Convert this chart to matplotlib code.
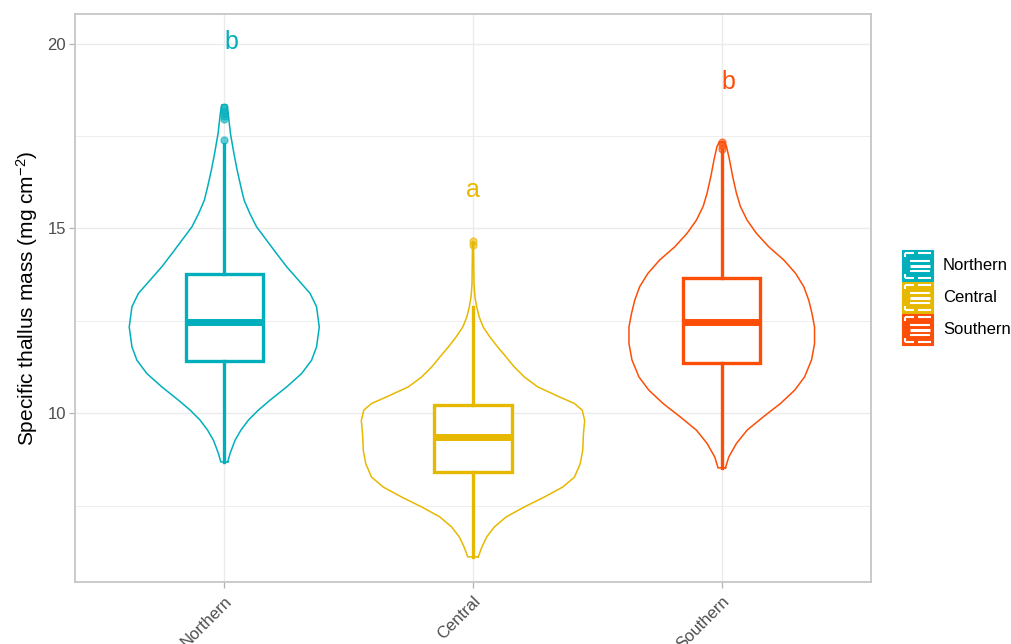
import numpy as np
import matplotlib
matplotlib.use("Agg")
import matplotlib.pyplot as plt
from matplotlib.patches import Rectangle

plt.rcParams['font.family'] = ['Liberation Sans', 'DejaVu Sans']
plt.rcParams['mathtext.fontset'] = 'custom'
plt.rcParams['mathtext.rm'] = 'Liberation Sans'
plt.rcParams['mathtext.it'] = 'Liberation Sans:italic'

regions = ['Northern', 'Central', 'Southern']
colors = ['#00AFBB', '#E7B800', '#FC4E07']

# violin outlines: value -> half width (in category units)
north_y = [8.68, 8.90, 9.26, 9.54, 9.81, 10.08, 10.35, 10.71, 11.07, 11.43, 11.79, 12.33,
           12.88, 13.24, 13.60, 13.96, 14.32, 14.68, 15.04, 15.40, 15.76, 16.12, 16.57,
           17.02, 17.56, 18.10, 18.34]
north_w = [0.014, 0.023, 0.043, 0.067, 0.097, 0.137, 0.184, 0.251, 0.311, 0.351, 0.371,
           0.382, 0.371, 0.345, 0.298, 0.251, 0.210, 0.170, 0.130, 0.103, 0.080, 0.067,
           0.052, 0.039, 0.025, 0.016, 0.010]
central_y = [6.11, 6.38, 6.65, 6.92, 7.19, 7.46, 7.73, 8.00, 8.27, 8.63, 8.99, 9.44, 9.80,
             10.08, 10.26, 10.44, 10.71, 10.98, 11.25, 11.52, 11.79, 12.06, 12.33, 12.60,
             12.87, 13.14, 13.50, 14.04, 14.64]
central_w = [0.021, 0.036, 0.055, 0.086, 0.133, 0.206, 0.287, 0.361, 0.408, 0.431, 0.441,
             0.444, 0.449, 0.439, 0.408, 0.347, 0.260, 0.206, 0.166, 0.133, 0.099, 0.068,
             0.041, 0.025, 0.015, 0.008, 0.004, 0.003, 0.002]
south_y = [8.52, 8.81, 9.18, 9.54, 9.91, 10.26, 10.62, 10.98, 11.44, 11.88, 12.33, 12.69,
           13.05, 13.42, 13.78, 14.14, 14.50, 14.86, 15.22, 15.59, 15.95, 16.40, 16.86,
           17.22, 17.34]
south_w = [0.015, 0.028, 0.059, 0.102, 0.169, 0.236, 0.293, 0.333, 0.361, 0.373, 0.373,
           0.363, 0.350, 0.330, 0.297, 0.250, 0.189, 0.140, 0.102, 0.075, 0.059, 0.044,
           0.031, 0.019, 0.010]

# box plot summaries
q1 = [11.41, 8.40, 11.35]
med = [12.46, 9.35, 12.46]
q3 = [13.76, 10.22, 13.65]
whis_lo = [8.68, 6.11, 8.52]
whis_hi = [17.28, 12.87, 17.12]
outliers = [[17.40, 17.95, 18.05, 18.12, 18.21, 18.28],
            [14.55, 14.66],
            [17.16, 17.26, 17.33]]

letters = ['b', 'a', 'b']
letter_y = [20.05, 16.04, 18.97]

violins = [(north_y, north_w), (central_y, central_w), (south_y, south_w)]

fig = plt.figure(figsize=(10.12, 6.44), dpi=100)
ax = fig.add_axes([75 / 1012, 62 / 644, 796 / 1012, 568 / 644])

for i, (vy, vw) in enumerate(violins):
    pos = i + 1
    vy = np.array(vy)
    vw = np.array(vw)
    xs = np.concatenate([pos + vw, (pos - vw)[::-1], [pos + vw[0]]])
    ys = np.concatenate([vy, vy[::-1], [vy[0]]])
    ax.plot(xs, ys, color=colors[i], lw=1.1, zorder=2, solid_joinstyle='round')

stats = []
for i in range(3):
    stats.append(dict(med=med[i], q1=q1[i], q3=q3[i], whislo=whis_lo[i],
                      whishi=whis_hi[i], fliers=outliers[i]))

for i in range(3):
    c = colors[i]
    ax.bxp([stats[i]], positions=[i + 1], widths=0.31, patch_artist=True,
           showcaps=False, manage_ticks=False, zorder=3,
           boxprops=dict(facecolor='white', edgecolor=c, lw=2.4),
           medianprops=dict(color=c, lw=5, solid_capstyle='butt'),
           whiskerprops=dict(color=c, lw=2.4),
           flierprops=dict(marker='o', markerfacecolor=c, markeredgecolor=c,
                           markersize=5, alpha=0.6))

for i in range(3):
    nudge = 0.028 if letters[i] == 'b' else 0.0
    ax.text(i + 1 + nudge, letter_y[i], letters[i], color=colors[i], fontsize=18,
            ha='center', va='center', zorder=4)

ax.set_xlim(0.4, 3.6)
ax.set_ylim(5.43, 20.80)
ax.set_xticks([1, 2, 3])
ax.set_xticklabels(regions, rotation=45, ha='right', va='top', rotation_mode='anchor')
ax.set_yticks([10, 15, 20])
ax.set_yticks([7.5, 12.5, 17.5], minor=True)
ax.tick_params(axis='both', which='major', length=4, width=0.9, color='#B3B3B3',
               labelcolor='#4D4D4D', labelsize=12, pad=2.5)
ax.tick_params(axis='x', labelsize=12, pad=4)
ax.tick_params(axis='y', which='minor', length=0)
ax.grid(True, which='major', color='#EBEBEB', lw=1.0, zorder=0)
ax.grid(True, which='minor', axis='y', color='#EBEBEB', lw=0.6, zorder=0)
ax.set_axisbelow(True)
for s in ax.spines.values():
    s.set_color('#C6C6C6')
    s.set_linewidth(1.3)

ax.set_ylabel('Specific thallus mass (mg cm$^{-2}$)', fontsize=15, color='black', labelpad=5)

# legend drawn by hand in pixel space
lax = fig.add_axes([0, 0, 1, 1], zorder=5)
lax.set_xlim(0, 1012)
lax.set_ylim(644, 0)
lax.axis('off')
for i, name in enumerate(regions):
    top = 250 + i * 32
    x0, s = 902, 31
    lax.add_patch(Rectangle((x0, top), s, s, facecolor=colors[i], edgecolor=colors[i], lw=0.8))
    wl = dict(color='white', lw=1.5, solid_capstyle='butt')
    # whisker ends
    lax.plot([x0 + 3, x0 + 12], [top + 3, top + 3], **wl)
    lax.plot([x0 + 16, x0 + s - 2], [top + 3, top + 3], **wl)
    lax.plot([x0 + 3, x0 + 12], [top + s - 3, top + s - 3], **wl)
    lax.plot([x0 + 16, x0 + s - 2], [top + s - 3, top + s - 3], **wl)
    lax.plot([x0 + 3, x0 + 3], [top + 3, top + 7], **wl)
    lax.plot([x0 + 3, x0 + 3], [top + s - 7, top + s - 3], **wl)
    # box and median
    lax.plot([x0 + 8, x0 + s - 3], [top + 10.5, top + 10.5], **wl)
    lax.plot([x0 + 8, x0 + s - 3], [top + s - 10.5, top + s - 10.5], **wl)
    lax.plot([x0 + 8, x0 + s - 3], [top + s / 2, top + s / 2], color='white', lw=2.2,
             solid_capstyle='butt')
    lax.text(943, top + s / 2, name, fontsize=12, color='black', ha='left', va='center')

fig.savefig('out.png', dpi=100)
